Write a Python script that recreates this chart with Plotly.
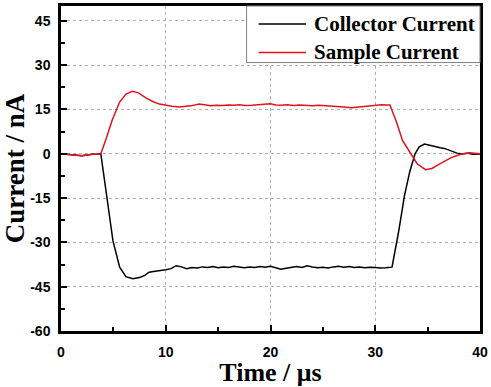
import plotly.graph_objects as go

# Collector current (black)
collector_t = [0, 0.5, 1, 1.5, 2, 2.5, 3, 3.5, 3.8, 4.3, 4.96, 5.6, 6.2, 6.85, 7.5, 8.0, 8.4, 9.0, 9.5,
               10, 10.5, 11, 11.5, 12, 12.5, 13, 13.5, 14, 14.5, 15, 15.5, 16, 16.5, 17, 17.5, 18, 18.5,
               19, 19.5, 20, 20.5, 21, 21.5, 22, 22.5, 23, 23.5, 24, 24.5, 25, 25.5, 26, 26.5, 27, 27.5,
               28, 28.5, 29, 29.5, 30, 30.5, 31, 31.6, 32.2, 32.8, 33.3, 33.8, 34.2, 34.7, 35.2, 35.7,
               36.2, 36.6, 37.2, 37.8, 38.3, 38.8, 39.3, 40]
collector_v = [0.0, -0.1, -0.3, -0.5, -0.7, -0.4, -0.2, -0.1, 0.0, -12.7, -29.5, -38.4, -41.6, -42.3, -41.9,
               -41.2, -40.1, -39.8, -39.6, -39.3, -38.9, -37.9, -38.3, -38.9, -38.5, -38.7, -38.3, -38.5,
               -38.2, -38.6, -38.3, -38.5, -38.1, -38.4, -38.6, -38.3, -38.5, -38.2, -38.4, -38.1, -38.6,
               -39.1, -38.8, -38.4, -38.2, -38.5, -37.9, -38.3, -38.6, -38.4, -38.7, -38.3, -38.1, -38.4,
               -38.2, -38.5, -38.3, -38.6, -38.4, -38.5, -38.7, -38.6, -38.4, -27.0, -14.0, -6.0, 0.0, 2.3,
               3.3, 2.9, 2.4, 2.0, 1.8, 1.0, 0.2, -0.1, 0.2, -0.2, -0.1]

# Sample current (red)
sample_t = [0, 0.5, 1, 1.5, 2, 2.5, 3, 3.5, 3.8, 4.3, 4.9, 5.6, 6.2, 6.8, 7.4, 8.1, 8.8, 9.4, 10, 10.6,
            11.3, 11.8, 12.4, 13.2, 13.8, 14.3, 14.8, 15.4, 16, 16.5, 17, 17.6, 18.2, 18.8, 19.4, 20,
            20.5, 21, 21.6, 22.2, 22.8, 23.4, 24, 24.6, 25.2, 25.8, 26.4, 27, 27.7, 28.3, 28.9, 29.5,
            30.1, 30.6, 31.1, 31.4, 32.0, 32.6, 33.4, 34.0, 34.8, 35.4, 36.0, 36.6, 37.2, 37.8, 38.4,
            39.0, 39.6, 40]
sample_v = [0.0, -0.1, -0.3, -0.5, -0.7, -0.4, -0.2, -0.1, 0.0, 5.0, 11.5, 17.5, 20.2, 21.1, 20.6, 18.9,
            17.6, 16.8, 16.4, 16.1, 15.8, 16.0, 16.2, 16.8, 16.5, 16.2, 16.4, 16.3, 16.5, 16.4, 16.6,
            16.3, 16.4, 16.5, 16.6, 16.9, 16.5, 16.4, 16.6, 16.3, 16.5, 16.4, 16.2, 16.4, 16.3, 16.1,
            16.0, 15.8, 15.6, 15.8, 16.1, 16.3, 16.4, 16.6, 16.5, 16.5, 11.0, 4.5, 0.0, -3.4, -5.4, -5.0,
            -3.8, -2.6, -1.4, -0.6, 0.0, 0.3, 0.1, 0.0]

series_names = ["Collector Current", "Sample Current"]
series_colors = ["#000000", "#e0141e"]

x_tickvals = [0, 10, 20, 30, 40]
x_ticktext = ["0", "10", "20", "30", "40"]
y_tickvals = [-60, -45, -30, -15, 0, 15, 30, 45]
y_ticktext = ["-60", "-45", "-30", "-15", "0", "15", "30", "45"]

fig = go.Figure()
fig.add_trace(go.Scatter(x=collector_t, y=collector_v, mode="lines", name=series_names[0],
                         line=dict(color=series_colors[0], width=1.5)))
fig.add_trace(go.Scatter(x=sample_t, y=sample_v, mode="lines", name=series_names[1],
                         line=dict(color=series_colors[1], width=1.5)))

tickfont = dict(family="Liberation Sans, Arial", size=14, color="#000000", weight="bold")
serif = "Liberation Serif, Times New Roman"

# Manual legend (box, line samples, labels) in plot-area paper coordinates
fig.add_shape(type="rect", xref="paper", yref="paper", x0=0.443, x1=1.0, y0=0.826, y1=1.0,
              line=dict(color="#7f7f7f", width=1), fillcolor="white", layer="above")
legend_rows_y = [0.945, 0.857]
for name, color, ly in zip(series_names, series_colors, legend_rows_y):
    fig.add_shape(type="line", xref="paper", yref="paper", x0=0.4716, x1=0.585, y0=ly, y1=ly,
                  line=dict(color=color, width=1.5), layer="above")
    fig.add_annotation(xref="paper", yref="paper", x=0.5995, y=ly, xanchor="left", yanchor="middle",
                       text=name, showarrow=False,
                       font=dict(family=serif, size=21, color="#000000", weight="bold"))

fig.update_layout(
    width=491, height=387,
    margin=dict(l=61, r=8, t=3, b=56),
    paper_bgcolor="white", plot_bgcolor="white",
    showlegend=False,
    xaxis=dict(range=[0, 40], tickvals=x_tickvals, ticktext=x_ticktext, ticks="inside", ticklen=6,
               tickwidth=2, tickcolor="#000", showline=True, linewidth=2.5, linecolor="#000",
               mirror=True, showgrid=True, gridcolor="#b0b0b0", griddash="dot", gridwidth=1,
               zeroline=False, tickfont=tickfont, ticklabelstandoff=6,
               minor=dict(ticks="inside", ticklen=4, tickwidth=2, dtick=5, tick0=0,
                          tickcolor="#000", showgrid=False),
               title=dict(text="Time / μs", font=dict(family=serif, size=26, color="#000",
                                                       weight="bold"), standoff=0)),
    yaxis=dict(range=[-60, 50], tickvals=y_tickvals, ticktext=y_ticktext, ticks="inside", ticklen=6,
               tickwidth=2, tickcolor="#000", showline=True, linewidth=2.5, linecolor="#000",
               mirror=True, showgrid=True, gridcolor="#b0b0b0", griddash="dot", gridwidth=1,
               zeroline=False, tickfont=tickfont, ticklabelstandoff=5,
               minor=dict(ticks="inside", ticklen=4, tickwidth=2, dtick=7.5, tick0=0,
                          tickcolor="#000", showgrid=False),
               title=dict(text="Current / nA", font=dict(family=serif, size=27, color="#000",
                                                         weight="bold"), standoff=4)),
)

fig.write_html("out.html")
